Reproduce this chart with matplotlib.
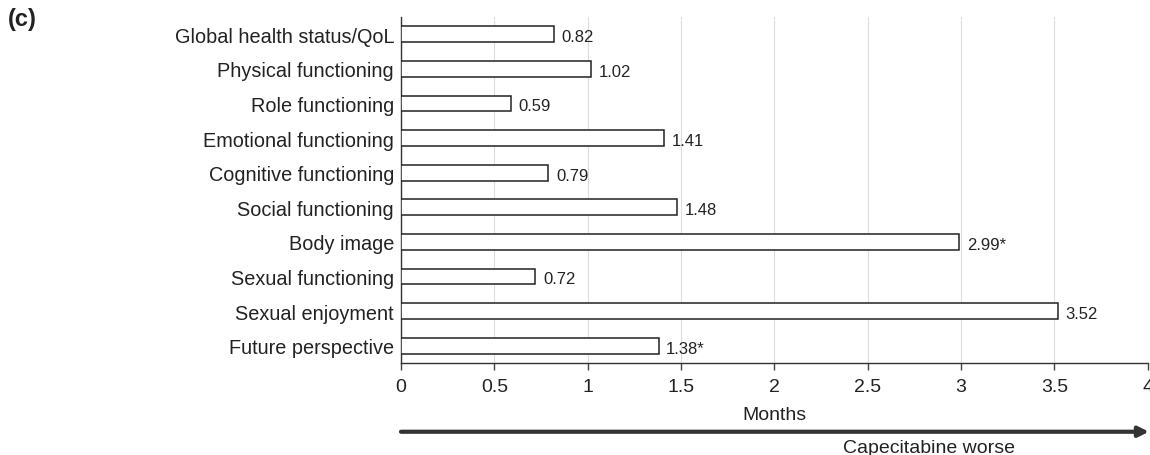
import matplotlib.pyplot as plt

categories = ['Global health status/QoL', 'Physical functioning', 'Role functioning',
              'Emotional functioning', 'Cognitive functioning', 'Social functioning',
              'Body image', 'Sexual functioning', 'Sexual enjoyment', 'Future perspective']
months = [0.82, 1.02, 0.59, 1.41, 0.79, 1.48, 2.99, 0.72, 3.52, 1.38]
value_labels = ['0.82', '1.02', '0.59', '1.41', '0.79', '1.48', '2.99*', '0.72', '3.52', '1.38*']
xticks = [0, 0.5, 1, 1.5, 2, 2.5, 3, 3.5, 4]
xtick_labels = ['0', '0.5', '1', '1.5', '2', '2.5', '3', '3.5', '4']

plt.rcParams['font.family'] = ['Liberation Sans', 'DejaVu Sans']
ink = '#222222'

fig = plt.figure(figsize=(11.5, 4.56), dpi=100)
ax = fig.add_axes([0.3487, 0.2018, 0.6493, 0.7587])

pos = list(range(len(categories)))
ax.barh(pos, months, height=0.46, color='white', edgecolor=ink, linewidth=1.1, zorder=3)
for p, v, lab in zip(pos, months, value_labels):
    ax.text(v + 0.04, p + 0.07, lab, va='center', ha='left', fontsize=12, color=ink)

ax.set_ylim(9.5, -0.5)
ax.set_xlim(0, 4)
ax.set_yticks(pos)
ax.set_yticklabels(categories, fontsize=14.3, color=ink)
ax.tick_params(axis='y', length=0, pad=5)
ax.set_xticks(xticks)
ax.set_xticklabels(xtick_labels, fontsize=14, color=ink)
ax.tick_params(axis='x', length=5, width=1, color='#444444', pad=6)
ax.grid(axis='x', color='#dddddd', linewidth=0.8, zorder=0)
for s in ['top', 'right']:
    ax.spines[s].set_visible(False)
for s in ['left', 'bottom']:
    ax.spines[s].set_color('#333333')
    ax.spines[s].set_linewidth(1.0)
ax.set_xlabel('Months', fontsize=14, color=ink, labelpad=8)

fig.text(0.007, 0.958, '(c)', fontsize=17, fontweight='bold', va='center', ha='left', color=ink)

ax.annotate('', xy=(0.999, 0.051), xycoords='figure fraction', xytext=(0.3487, 0.051),
            textcoords='figure fraction',
            arrowprops=dict(arrowstyle='-|>,head_length=0.6,head_width=0.3', color='#333333', lw=3,
                            shrinkA=0, shrinkB=0))
fig.text(0.808, 0.017, 'Capecitabine worse', fontsize=14, ha='center', va='center', color=ink)

fig.savefig('out.png', dpi=100)
